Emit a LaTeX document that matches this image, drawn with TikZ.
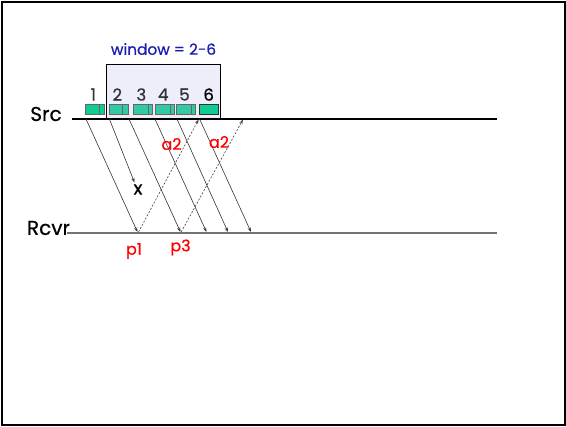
\documentclass[tikz,border=0pt]{standalone}
\usepackage{fontspec}
\setmainfont{Poppins}[FakeBold=0.6]
\usetikzlibrary{arrows.meta}
\definecolor{pktgreen}{HTML}{0ECC92}
\definecolor{pktwin}{HTML}{33C9A2}
\definecolor{winfill}{HTML}{EEEEFB}
\definecolor{winblue}{HTML}{1C1CB0}
\begin{document}
\begin{tikzpicture}[x=0.75pt, y=-0.75pt,
    lbl/.style={font=\fontsize{15}{15}\selectfont, inner sep=0pt},
    num/.style={font=\fontsize{12.5}{12.5}\selectfont, inner sep=0pt, text=black!80},
    redlbl/.style={font=\fontsize{12}{12}\selectfont, inner sep=0pt, text=red},
    pkt/.style={draw=black!60, line width=0.6pt, minimum width=14.4pt, minimum height=7.4pt, inner sep=0pt},
    pktarrow/.style={draw=black!80, line width=0.45pt, -{Stealth[length=3.5pt, width=2.4pt]}},
    ackarrow/.style={draw=black!75, line width=0.45pt, dashed, dash pattern=on 1.5pt off 1.2pt, -{Stealth[length=3.5pt, width=2.4pt]}}]
    \useasboundingbox (0, 0) rectangle (566, 426);
    % 外框
    \draw[line width=1.5pt] (2, 2) rectangle (564.5, 424.5);

    % 发送端与接收端
    \node[lbl] (srclbl) at (46, 114) {Src};
    \node[lbl] (rcvrlbl) at (48.5, 228) {Rcvr};
    \coordinate (srcL) at (72, 119);
    \coordinate (srcR) at (497, 119);
    \coordinate (rcvrL) at (67, 233);
    \coordinate (rcvrR) at (497, 233);

    % 窗口
    \draw[fill=winfill, line width=0.8pt] (106.5, 64.5) rectangle (220.5, 119);
    \node[font=\fontsize{11.5}{11.5}\selectfont, text=winblue, inner sep=0pt] (winlbl) at (163.5, 49) {window = 2-6};

    \draw[line width=0.8pt] (srcL) -- (srcR);
    \draw[black!55, line width=1.3pt] (rcvrL) -- (rcvrR);

    % 分组
    \foreach \i/\x/\d/\c in {1/94.8/99.7/pktgreen, 2/118.8/122.3/pktwin, 3/142.8/148.3/pktwin, 4/164.7/170/pktwin, 5/186/191/pktwin} {
        \node[pkt, fill=\c] (pk\i) at (\x, 109.2) {};
        \draw[black!60, line width=0.6pt] (\d, 104.3) -- (\d, 114.1);
        \node[num] (n\i) at (\x-1.5, 94.5) {\i};
    }
    \node[pkt, fill=pktgreen, draw=black!80] (pk6) at (208.8, 109.2) {};
    \node[num, text=black] (n6) at (208.7, 94.5) {6};

    % 数据分组
    \foreach \i/\a/\b in {1/86/137.5, 3/129/180.5, 4/155/206.5, 5/177/228, 6/199.6/251} {
        \coordinate (s\i) at (\a, 119);
        \coordinate (r\i) at (\b, 232);
        \draw[pktarrow] (s\i) -- (r\i);
    }
    % 丢失的分组
    \coordinate (s2) at (109.4, 119);
    \coordinate (r2) at (134.5, 182.5);
    \draw[pktarrow] (s2) -- (r2);
    \node[font=\fontsize{14}{14}\selectfont, inner sep=0pt] (lost) at (138, 189.5) {x};

    % 确认
    \coordinate (k1) at (138.5, 232);
    \coordinate (t1) at (198.6, 119.5);
    \coordinate (k2) at (181.2, 232);
    \coordinate (t2) at (243, 119.5);
    \draw[ackarrow] (k1) -- (t1);
    \draw[ackarrow] (k2) -- (t2);

    % 标签
    \node[redlbl] (ack1) at (171.5, 144) {a2};
    \node[redlbl] (ack2) at (219, 142) {a2};
    \node[redlbl] (p1) at (134, 251) {p1};
    \node[redlbl] (p3) at (180.5, 247.5) {p3};
\end{tikzpicture}
\end{document}
